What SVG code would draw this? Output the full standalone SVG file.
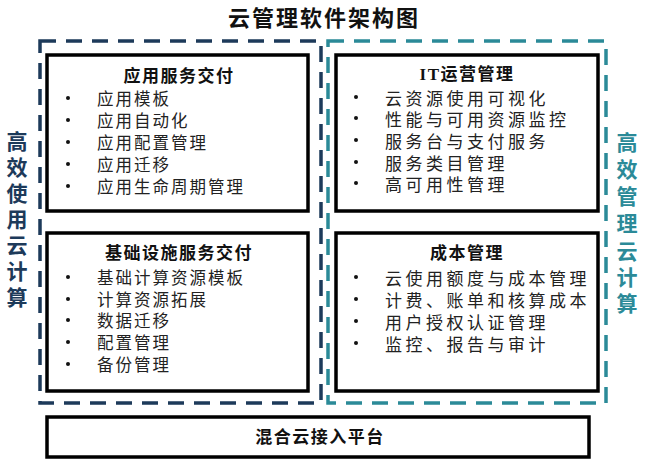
<svg xmlns="http://www.w3.org/2000/svg" width="648" height="468" viewBox="0 0 648 468">
<style>
.title{font-family:"Liberation Serif","Noto Sans CJK SC",serif;font-weight:bold;font-size:22px;fill:#111;letter-spacing:2px}
.hdr{font-family:"Liberation Serif","Noto Sans CJK SC",serif;font-weight:bold;font-size:17px;fill:#111;letter-spacing:1.5px}
.itL{font-family:"Noto Sans CJK SC",sans-serif;font-size:16.5px;fill:#222;letter-spacing:2px}
.itR{font-family:"Noto Sans CJK SC",sans-serif;font-size:17px;fill:#222;letter-spacing:3.5px}
.box{fill:#fff;stroke:#000;stroke-width:3.5}
.dashL{fill:none;stroke:#1d3a5a;stroke-width:3.5;stroke-dasharray:16 10}
.dashR{fill:none;stroke:#2b8a98;stroke-width:3.5;stroke-dasharray:16 10}
.sideL{font-family:"Noto Sans CJK SC",sans-serif;font-weight:bold;font-size:21px;fill:#1d3a5a}
.sideR{font-family:"Noto Sans CJK SC",sans-serif;font-weight:bold;font-size:21px;fill:#2b8a98}
.bul{fill:#111}
</style>
<rect width="648" height="468" fill="#fff"/>
<text class="title" x="324" y="18" text-anchor="middle" dominant-baseline="central">云管理软件架构图</text>

<g id="efficient-use">
<rect class="dashL" x="40" y="41" width="281" height="362"/>
<g class="sideL" text-anchor="middle" dominant-baseline="central">
<text x="17" y="140" dominant-baseline="central">高</text>
<text x="17" y="166" dominant-baseline="central">效</text>
<text x="17" y="192" dominant-baseline="central">使</text>
<text x="17" y="218" dominant-baseline="central">用</text>
<text x="17" y="244" dominant-baseline="central">云</text>
<text x="17" y="270" dominant-baseline="central">计</text>
<text x="17" y="296" dominant-baseline="central">算</text>
</g>
</g>

<g id="efficient-manage">
<rect class="dashR" x="328" y="41" width="278" height="362"/>
<g class="sideR" text-anchor="middle">
<text x="627" y="141" dominant-baseline="central">高</text>
<text x="627" y="168" dominant-baseline="central">效</text>
<text x="627" y="195" dominant-baseline="central">管</text>
<text x="627" y="222" dominant-baseline="central">理</text>
<text x="627" y="250" dominant-baseline="central">云</text>
<text x="627" y="276" dominant-baseline="central">计</text>
<text x="627" y="302" dominant-baseline="central">算</text>
</g>
</g>

<g id="app-delivery">
<rect class="box" x="47" y="55" width="261" height="156"/>
<text class="hdr" x="179" y="76" text-anchor="middle" dominant-baseline="central">应用服务交付</text>
<circle class="bul" cx="68" cy="98" r="2"/><text class="itL" x="97" y="98" dominant-baseline="central">应用模板</text>
<circle class="bul" cx="68" cy="120" r="2"/><text class="itL" x="97" y="120" dominant-baseline="central">应用自动化</text>
<circle class="bul" cx="68" cy="142" r="2"/><text class="itL" x="97" y="142" dominant-baseline="central">应用配置管理</text>
<circle class="bul" cx="68" cy="164" r="2"/><text class="itL" x="97" y="164" dominant-baseline="central">应用迁移</text>
<circle class="bul" cx="68" cy="186" r="2"/><text class="itL" x="97" y="186" dominant-baseline="central">应用生命周期管理</text>
</g>

<g id="infra-delivery">
<rect class="box" x="47" y="233" width="261" height="158"/>
<text class="hdr" x="179" y="253" text-anchor="middle" dominant-baseline="central">基础设施服务交付</text>
<circle class="bul" cx="68" cy="277" r="2"/><text class="itL" x="97" y="277" dominant-baseline="central">基础计算资源模板</text>
<circle class="bul" cx="68" cy="299" r="2"/><text class="itL" x="97" y="299" dominant-baseline="central">计算资源拓展</text>
<circle class="bul" cx="68" cy="320" r="2"/><text class="itL" x="97" y="320" dominant-baseline="central">数据迁移</text>
<circle class="bul" cx="68" cy="342" r="2"/><text class="itL" x="97" y="342" dominant-baseline="central">配置管理</text>
<circle class="bul" cx="68" cy="364" r="2"/><text class="itL" x="97" y="364" dominant-baseline="central">备份管理</text>
</g>

<g id="it-ops">
<rect class="box" x="336" y="55" width="262" height="156"/>
<text class="hdr" x="467" y="74" text-anchor="middle" dominant-baseline="central">IT运营管理</text>
<circle class="bul" cx="356" cy="97" r="2"/><text class="itR" x="385" y="97" dominant-baseline="central">云资源使用可视化</text>
<circle class="bul" cx="356" cy="118" r="2"/><text class="itR" x="385" y="118" dominant-baseline="central">性能与可用资源监控</text>
<circle class="bul" cx="356" cy="140" r="2"/><text class="itR" x="385" y="140" dominant-baseline="central">服务台与支付服务</text>
<circle class="bul" cx="356" cy="162" r="2"/><text class="itR" x="385" y="162" dominant-baseline="central">服务类目管理</text>
<circle class="bul" cx="356" cy="183" r="2"/><text class="itR" x="385" y="183" dominant-baseline="central">高可用性管理</text>
</g>

<g id="cost-mgmt">
<rect class="box" x="336" y="233" width="262" height="158"/>
<text class="hdr" x="467" y="253" text-anchor="middle" dominant-baseline="central">成本管理</text>
<circle class="bul" cx="356" cy="277" r="2"/><text class="itR" x="385" y="277" dominant-baseline="central">云使用额度与成本管理</text>
<circle class="bul" cx="356" cy="299" r="2"/><text class="itR" x="385" y="299" dominant-baseline="central">计费、账单和核算成本</text>
<circle class="bul" cx="356" cy="321" r="2"/><text class="itR" x="385" y="321" dominant-baseline="central">用户授权认证管理</text>
<circle class="bul" cx="356" cy="343" r="2"/><text class="itR" x="385" y="343" dominant-baseline="central">监控、报告与审计</text>
</g>

<g id="hybrid-platform">
<rect class="box" x="47" y="417" width="542" height="40"/>
<text class="hdr" x="320" y="437" text-anchor="middle" dominant-baseline="central">混合云接入平台</text>
</g>
<g id="connectors"/>
</svg>
